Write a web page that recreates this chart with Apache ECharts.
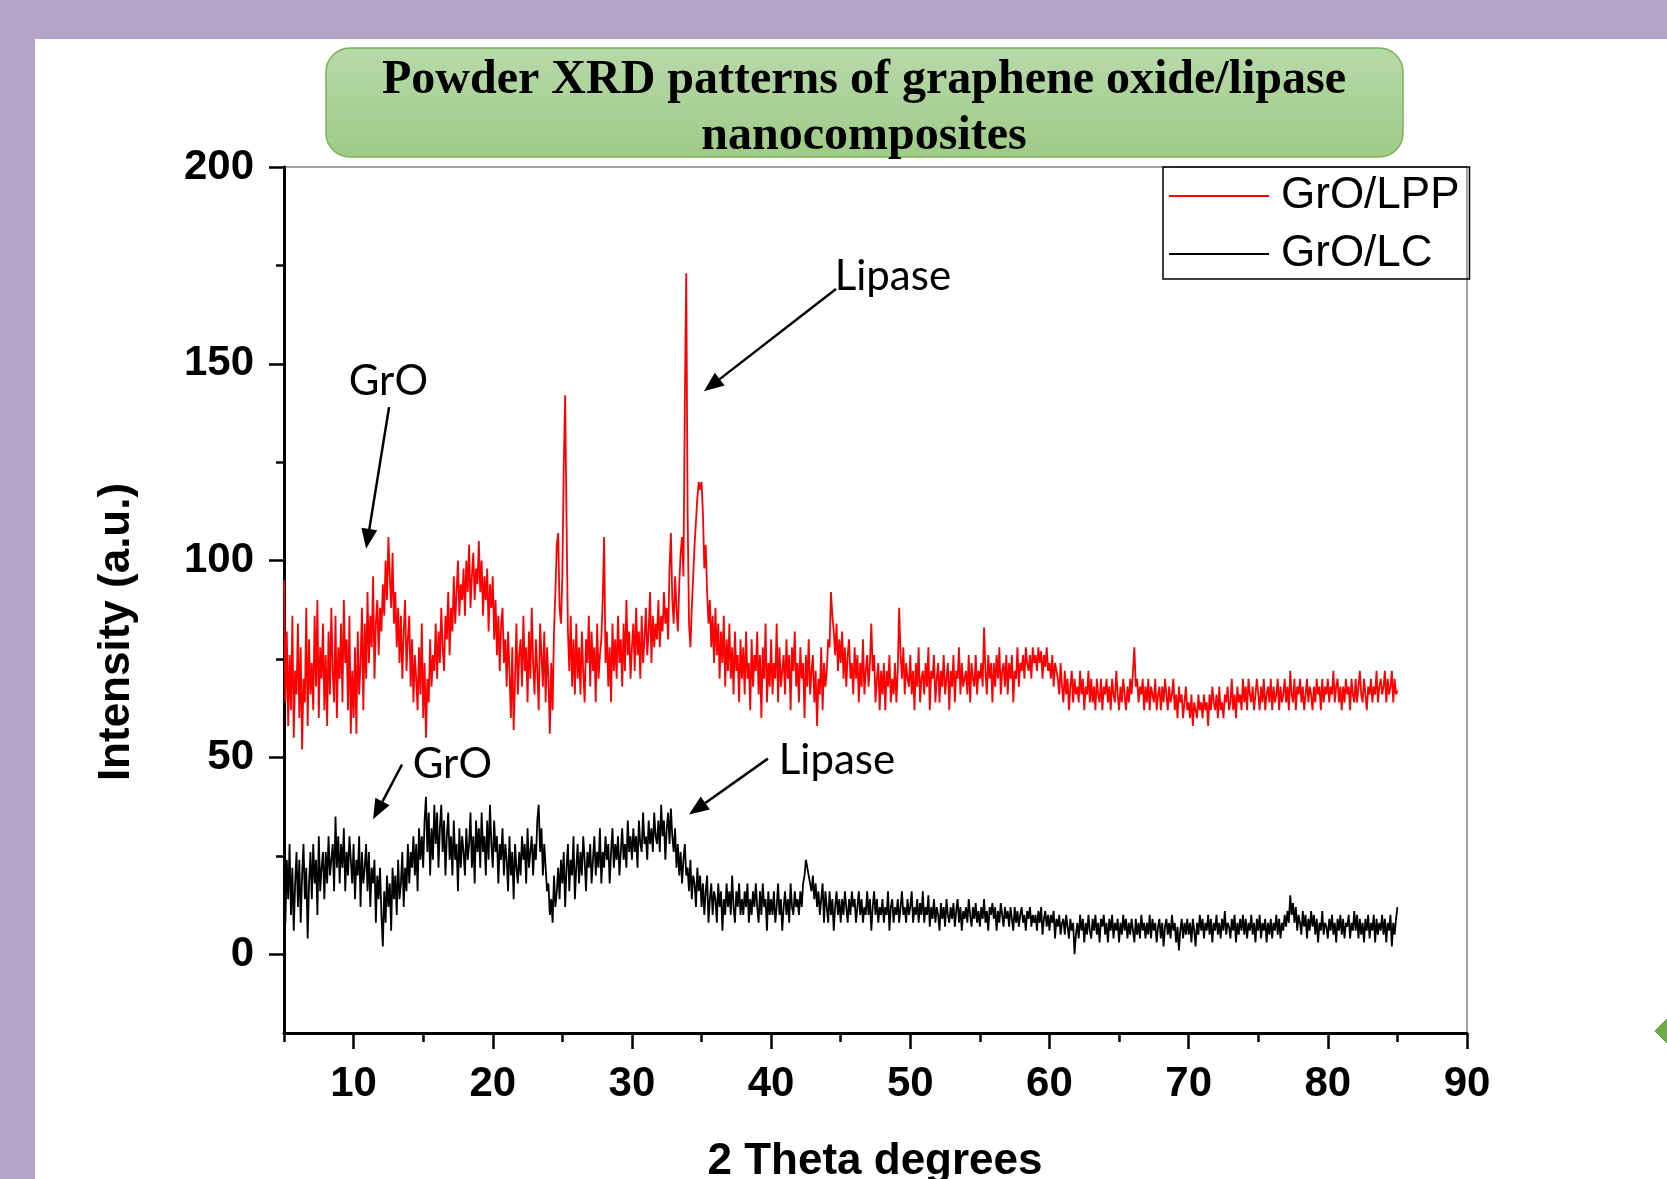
<!DOCTYPE html>
<html>
<head>
<meta charset="utf-8">
<script src="https://cdn.jsdelivr.net/npm/echarts@6/dist/echarts.min.js"></script>
<style>
  html, body { margin: 0; padding: 0; background: #b4a5c8; overflow: hidden; }
  #panel { position: absolute; left: 35px; top: 39px; right: 0; bottom: 0; background: #fff; }
  #chart { position: absolute; left: 0; top: 0; width: 1667px; height: 1179px; }
</style>
</head>
<body>
<div id="panel"></div>
<div id="chart"></div>
<script>
// 2-theta sampling of the traces (degrees)
const thetaStart = 5
const thetaStep = 0.1

// GrO/LPP intensity, one row per degree (5.0 .. 85.0)
const groLpp = [
  95, 64, 82, 58, 76, 62, 86, 55, 72, 66,
  84, 60, 78, 52, 70, 64, 88, 58, 80, 66,
  74, 62, 86, 68, 90, 60, 78, 70, 84, 62,
  76, 58, 82, 66, 88, 72, 64, 86, 60, 78,
  70, 84, 64, 90, 74, 80, 62, 86, 56, 72,
  60, 78, 56, 82, 66, 74, 88, 62, 84, 70,
  92, 74, 86, 78, 96, 70, 84, 90, 76, 88,
  82, 94, 86, 100, 90, 106, 96, 88, 102, 84,
  92, 78, 88, 74, 86, 70, 82, 90, 72, 80,
  86, 68, 80, 64, 76, 70, 62, 78, 66, 84,
  60, 74, 55, 70, 64, 80, 68, 76, 72, 84,
  70, 82, 74, 88, 78, 72, 86, 80, 92, 76,
  88, 82, 96, 84, 92, 100, 86, 94, 90, 98,
  86, 100, 92, 104, 88, 96, 102, 90, 98, 94,
  105, 92, 100, 86, 96, 90, 98, 82, 94, 88,
  96, 80, 90, 76, 86, 72, 84, 88, 74, 80,
  68, 82, 72, 60, 78, 57, 70, 84, 66, 76,
  80, 68, 86, 72, 78, 64, 82, 70, 88, 74,
  66, 80, 72, 62, 84, 76, 68, 82, 64, 78,
  70, 56, 74, 62, 82, 92, 104, 107, 88, 84,
  96, 124, 142, 110, 82, 72, 86, 68, 80, 66,
  84, 70, 78, 66, 82, 72, 64, 80, 74, 86,
  68, 82, 72, 78, 64, 84, 70, 76, 80, 90,
  106, 74, 82, 68, 78, 64, 84, 72, 80, 70,
  86, 74, 80, 68, 84, 72, 90, 76, 82, 70,
  78, 84, 72, 88, 76, 82, 70, 86, 74, 80,
  88, 76, 82, 92, 74, 86, 78, 84, 80, 90,
  78, 86, 82, 92, 84, 88, 80, 98, 107, 90,
  84, 96, 88, 82, 94, 102, 106, 96, 140, 173,
  112, 84, 78, 88, 96, 104, 110, 116, 120, 118,
  120, 112, 98, 104, 92, 84, 90, 78, 86, 74,
  88, 76, 84, 70, 82, 74, 86, 68, 80, 72,
  84, 70, 78, 66, 82, 72, 76, 64, 80, 70,
  78, 66, 82, 70, 74, 62, 80, 68, 76, 72,
  82, 66, 76, 60, 78, 70, 84, 64, 74, 68,
  80, 66, 74, 70, 84, 64, 78, 68, 72, 76,
  66, 80, 70, 76, 62, 78, 72, 82, 68, 74,
  64, 78, 70, 74, 60, 76, 68, 80, 66, 72,
  76, 64, 72, 58, 70, 66, 78, 62, 74, 68,
  72, 80, 78, 92, 86, 82, 76, 84, 72, 80,
  74, 82, 70, 78, 68, 76, 80, 70, 74, 66,
  78, 70, 76, 64, 74, 68, 80, 66, 72, 76,
  68, 74, 84, 72, 76, 64, 70, 74, 62, 72,
  66, 74, 62, 72, 68, 76, 64, 70, 66, 74,
  64, 72, 88, 76, 70, 78, 66, 74, 70, 68,
  76, 66, 72, 62, 74, 68, 78, 64, 70, 72,
  66, 74, 68, 78, 62, 72, 70, 76, 64, 70,
  74, 64, 72, 68, 76, 66, 70, 74, 62, 72,
  68, 76, 64, 72, 70, 78, 66, 74, 68, 70,
  72, 66, 76, 64, 74, 70, 68, 76, 66, 72,
  70, 74, 68, 83, 72, 66, 76, 70, 74, 64,
  74, 68, 76, 70, 78, 66, 72, 74, 68, 76,
  66, 74, 70, 76, 64, 72, 70, 78, 68, 74,
  72, 76, 70, 78, 74, 72, 76, 70, 78, 74,
  76, 72, 78, 74, 77, 70, 76, 73, 78, 72,
  74, 70, 76, 68, 74, 72, 70, 66, 74, 68,
  64, 72, 66, 70, 62, 68, 72, 64, 70, 66,
  68, 64, 72, 66, 70, 62, 68, 66, 72, 64,
  70, 64, 68, 62, 70, 66, 64, 70, 62, 68,
  66, 70, 64, 68, 62, 70, 66, 64, 72, 66,
  62, 68, 64, 70, 66, 62, 68, 64, 70, 66,
  72, 78, 68, 70, 64, 68, 66, 70, 62, 68,
  64, 70, 62, 68, 66, 64, 70, 62, 66, 68,
  62, 68, 64, 70, 66, 62, 68, 64, 66, 70,
  62, 66, 60, 68, 64, 66, 60, 64, 68, 62,
  64, 60, 66, 58, 64, 62, 60, 66, 62, 64,
  60, 66, 62, 64, 58, 66, 62, 68, 64, 62,
  66, 60, 68, 62, 64, 60, 66, 64, 68, 62,
  64, 70, 62, 66, 60, 68, 64, 66, 62, 70,
  64, 68, 62, 70, 66, 64, 68, 62, 66, 70,
  66, 62, 68, 64, 70, 62, 66, 68, 64, 70,
  62, 68, 64, 66, 70, 62, 68, 64, 66, 70,
  64, 68, 62, 72, 66, 64, 70, 62, 68, 66,
  70, 64, 68, 62, 66, 70, 64, 68, 66, 62,
  68, 64, 70, 66, 68, 62, 70, 64, 68, 66,
  70, 64, 68, 66, 72, 64, 68, 70, 64, 68,
  62, 68, 64, 70, 66, 68, 62, 70, 66, 64,
  70, 64, 68, 72, 66, 64, 70, 66, 62, 68,
  66, 70, 64, 68, 66, 72, 64, 68, 70, 66,
  68, 72, 64, 70, 66, 68, 72, 64, 70, 66,
  67
]

// GrO/LC intensity, one row per degree (5.0 .. 85.0)
const groLc = [
  20, 8, 24, 14, 28, 10, 22, 6, 18, 26,
  12, 24, 8, 20, 28, 14, 22, 4, 18, 26,
  14, 28, 18, 24, 10, 30, 16, 22, 26, 14,
  26, 18, 30, 20, 24, 28, 16, 35, 22, 30,
  18, 28, 22, 32, 16, 26, 20, 30, 24, 18,
  28, 14, 24, 20, 30, 12, 26, 18, 22, 28,
  16, 26, 12, 22, 18, 24, 8, 20, 14, 22,
  10, 2, 16, 8, 20, 12, 18, 6, 22, 14,
  20, 10, 24, 14, 18, 26, 12, 22, 16, 28,
  18, 26, 22, 30, 20, 28, 16, 32, 24, 30,
  22, 34, 40, 26, 36, 20, 32, 24, 38, 28,
  36, 22, 32, 38, 26, 34, 20, 30, 36, 24,
  30, 20, 34, 24, 28, 16, 32, 22, 30, 26,
  20, 32, 24, 28, 36, 22, 30, 18, 34, 26,
  32, 22, 36, 26, 30, 20, 34, 24, 38, 28,
  22, 34, 26, 30, 18, 28, 24, 32, 20, 28,
  24, 16, 30, 20, 26, 14, 28, 22, 18, 26,
  20, 30, 24, 28, 18, 32, 22, 26, 30, 20,
  28, 24, 34, 38, 26, 32, 20, 28, 22, 16,
  18, 10, 14, 8, 20, 12, 16, 22, 14, 24,
  18, 26, 12, 22, 28, 16, 24, 20, 30, 14,
  22, 28, 18, 26, 20, 30, 24, 16, 26, 22,
  28, 18, 24, 30, 20, 26, 22, 32, 18, 26,
  22, 30, 24, 28, 18, 26, 32, 22, 28, 24,
  30, 20, 26, 32, 24, 28, 22, 34, 26, 30,
  24, 32, 26, 30, 22, 34, 28, 26, 36, 28,
  30, 24, 34, 28, 32, 26, 36, 30, 28, 34,
  26, 38, 30, 34, 24, 32, 36, 28, 37, 30,
  26, 32, 22, 28, 20, 26, 18, 24, 28, 20,
  22, 16, 24, 14, 20, 18, 12, 22, 16, 20,
  12, 18, 10, 16, 20, 8, 14, 18, 10, 16,
  14, 8, 18, 12, 16, 6, 14, 10, 18, 12,
  16, 10, 20, 12, 8, 16, 12, 18, 10, 14,
  10, 16, 12, 18, 8, 14, 10, 16, 12, 18,
  12, 8, 16, 10, 18, 12, 14, 6, 16, 10,
  14, 10, 16, 8, 12, 18, 10, 14, 6, 12,
  16, 10, 14, 8, 18, 12, 10, 16, 12, 14,
  10, 16, 12, 18, 20, 24, 22, 20, 18, 16,
  20, 14, 18, 12, 16, 10, 14, 18, 8, 16,
  12, 8, 16, 10, 14, 6, 12, 16, 10, 14,
  8, 14, 10, 16, 12, 8, 14, 10, 16, 12,
  14, 8, 12, 16, 10, 14, 8, 12, 10, 16,
  10, 14, 6, 12, 16, 10, 14, 8, 12, 10,
  14, 8, 12, 10, 16, 6, 12, 14, 8, 12,
  10, 14, 8, 12, 16, 10, 12, 8, 14, 10,
  12, 16, 8, 12, 10, 14, 8, 13, 10, 16,
  8, 12, 10, 15, 7, 12, 9, 14, 8, 12,
  10, 6, 13, 9, 12, 7, 14, 10, 8, 12,
  9, 13, 7, 11, 14, 8, 12, 6, 11, 9,
  12, 8, 14, 10, 7, 12, 9, 13, 8, 11,
  7, 12, 9, 14, 8, 11, 6, 12, 10, 13,
  9, 12, 6, 11, 8, 13, 10, 7, 12, 9,
  11, 7, 12, 9, 6, 12, 8, 11, 7, 10,
  12, 8, 10, 6, 11, 9, 12, 7, 10, 8,
  10, 6, 11, 8, 12, 5, 9, 11, 7, 10,
  6, 10, 8, 11, 4, 9, 7, 10, 5, 8,
  9, 5, 10, 7, 4, 9, 6, 8, 0, 5,
  8, 4, 10, 6, 9, 3, 8, 5, 10, 6,
  4, 9, 6, 10, 5, 8, 3, 9, 7, 10,
  5, 8, 3, 9, 6, 10, 4, 8, 6, 9,
  3, 8, 5, 10, 6, 9, 4, 8, 5, 9,
  6, 3, 9, 5, 8, 4, 10, 6, 8, 4,
  8, 5, 10, 4, 9, 6, 8, 3, 7, 9,
  4, 8, 2, 7, 9, 5, 8, 4, 10, 6,
  8, 3, 7, 1, 6, 9, 4, 8, 5, 9,
  5, 8, 3, 9, 6, 2, 8, 5, 10, 6,
  9, 4, 8, 6, 10, 5, 9, 3, 8, 6,
  10, 5, 8, 4, 9, 6, 11, 5, 8, 7,
  4, 9, 6, 10, 3, 8, 5, 9, 6, 10,
  5, 9, 4, 8, 6, 10, 5, 8, 3, 9,
  6, 10, 4, 8, 6, 9, 3, 8, 5, 9,
  4, 8, 6, 10, 5, 9, 4, 8, 6, 10,
  7, 11, 8, 15, 10, 13, 8, 12, 6, 10,
  8, 5, 11, 7, 10, 4, 9, 6, 11, 7,
  10, 5, 9, 3, 8, 6, 11, 5, 8, 7,
  4, 9, 6, 10, 5, 8, 3, 9, 6, 10,
  5, 9, 4, 8, 7, 10, 4, 8, 6, 11,
  6, 10, 4, 9, 5, 8, 3, 9, 6, 10,
  4, 8, 6, 10, 3, 9, 5, 8, 6, 10,
  5, 9, 3, 8, 6, 10, 2, 8, 5, 9,
  12
]

const xLabels = [10, 20, 30, 40, 50, 60, 70, 80, 90]
const xMinor = [5, 15, 25, 35, 45, 55, 65, 75, 85]
const yLabels = [0, 50, 100, 150, 200]
const yMinor = [25, 75, 125, 175]

// peak labels: text centre and arrow (from -> to), in data coordinates
const notes = [
  { text: 'GrO', at: [12.5, 145.5], from: [12.55, 139], to: [10.9, 103] },
  { text: 'Lipase', at: [48.75, 172.2], from: [44.66, 169], to: [35.17, 143] },
  { text: 'GrO', at: [17.1, 48.3], from: [13.48, 48.2], to: [11.4, 34.3] },
  { text: 'Lipase', at: [44.73, 49.3], from: [39.77, 49.7], to: [34.1, 35.5] }
]

const toPairs = vals => vals.map((v, i) => [+(thetaStart + i * thetaStep).toFixed(1), v])

const bold = { fontFamily: 'Liberation Sans, Arial, sans-serif', fontWeight: 'bold', color: '#000' }
const tickStyle = { color: '#000', width: 2.5 }

const chart = echarts.init(document.getElementById('chart'))
chart.setOption({
  animation: false,
  grid: { left: 284, top: 167, right: 200, bottom: 146, show: true, borderColor: '#444', borderWidth: 1 },
  legend: {
    orient: 'vertical', left: 1163, top: 167,
    borderColor: '#000', borderWidth: 1.5, padding: [4, 10, 0, 6],
    itemWidth: 100, itemHeight: 2, itemGap: 8, icon: 'rect',
    textStyle: { fontFamily: 'Liberation Sans, Arial, sans-serif', fontSize: 44, color: '#000', lineHeight: 50, padding: [0, 0, 0, 7] },
    data: ['GrO/LPP', 'GrO/LC']
  },
  xAxis: [
    {
      type: 'value', min: 5, max: 90,
      axisLine: { onZero: false, lineStyle: { color: '#000', width: 3 } },
      axisTick: { customValues: xLabels, length: 16, lineStyle: tickStyle },
      axisLabel: { customValues: xLabels, margin: 30, fontSize: 42, ...bold },
      splitLine: { show: false }
    },
    {
      type: 'value', min: 5, max: 90, position: 'bottom',
      axisLine: { show: false, onZero: false },
      axisTick: { customValues: xMinor, length: 9, lineStyle: tickStyle },
      axisLabel: { show: false },
      splitLine: { show: false }
    }
  ],
  yAxis: [
    {
      type: 'value', min: -20, max: 200,
      axisLine: { show: true, onZero: false, lineStyle: { color: '#000', width: 3 } },
      axisTick: { show: true, customValues: yLabels, length: 15, lineStyle: tickStyle },
      axisLabel: { customValues: yLabels, margin: 30, fontSize: 42, ...bold },
      splitLine: { show: false }
    },
    {
      type: 'value', min: -20, max: 200, position: 'left',
      axisLine: { show: false, onZero: false },
      axisTick: { show: true, customValues: yMinor, length: 8, lineStyle: tickStyle },
      axisLabel: { show: false },
      splitLine: { show: false }
    }
  ],
  series: [
    {
      name: 'GrO/LPP', type: 'line', data: toPairs(groLpp),
      showSymbol: false, color: '#ff0000',
      lineStyle: { color: '#ff0000', width: 1.8 }
    },
    {
      name: 'GrO/LC', type: 'line', data: toPairs(groLc),
      showSymbol: false, color: '#000000',
      lineStyle: { color: '#000000', width: 1.8 }
    }
  ]
})

// decorations: title box, axis titles, peak labels with arrows
const px = p => chart.convertToPixel({ xAxisIndex: 0, yAxisIndex: 0 }, p)
const graphics = [
  {
    type: 'rect', z: 10,
    shape: { x: 326, y: 48, width: 1077, height: 109, r: 24 },
    style: {
      fill: new echarts.graphic.LinearGradient(0, 0, 0, 1, [
        { offset: 0, color: '#b8d9aa' }, { offset: 1, color: '#9ecb86' }
      ]),
      stroke: '#78b358', lineWidth: 1.5
    }
  },
  {
    type: 'text', z: 11, x: 864, y: 53,
    style: {
      text: 'Powder XRD patterns of graphene oxide/lipase\nnanocomposites',
      fontFamily: 'Liberation Serif, Times New Roman, serif', fontWeight: 'bold', fontSize: 48,
      lineHeight: 56, fill: '#000', align: 'center', verticalAlign: 'top'
    }
  },
  {
    type: 'text', z: 11, x: 117, y: 632, rotation: Math.PI / 2,
    style: { text: 'Intensity (a.u.)', fontSize: 44, ...bold, fill: '#000', align: 'center', verticalAlign: 'middle' }
  },
  {
    type: 'text', z: 11, x: 875, y: 1162,
    style: { text: '2 Theta degrees', fontSize: 44, ...bold, fill: '#000', align: 'center', verticalAlign: 'middle' }
  },
  {
    type: 'polygon', z: 11,
    shape: { points: [[1655, 1031], [1672, 1014], [1689, 1031], [1672, 1048]] },
    style: { fill: '#70ad47', stroke: '#5a9a38', lineWidth: 1 }
  }
]

notes.forEach(n => {
  const c = px(n.at)
  const a = px(n.from)
  const b = px(n.to)
  const dx = b[0] - a[0], dy = b[1] - a[1]
  const len = Math.hypot(dx, dy)
  const ux = dx / len, uy = dy / len
  const headL = 20, headW = 8
  const bx = b[0] - ux * headL, by = b[1] - uy * headL
  graphics.push({
    type: 'text', z: 12, x: c[0], y: c[1],
    style: { text: n.text, fontFamily: 'Lato, Open Sans, sans-serif', fontSize: 42, fill: '#000', align: 'center', verticalAlign: 'middle' }
  })
  graphics.push({
    type: 'line', z: 12,
    shape: { x1: a[0], y1: a[1], x2: bx, y2: by },
    style: { stroke: '#000', lineWidth: 2.5 }
  })
  graphics.push({
    type: 'polygon', z: 12,
    shape: { points: [b, [bx - uy * headW, by + ux * headW], [bx + uy * headW, by - ux * headW]] },
    style: { fill: '#000' }
  })
})

chart.setOption({ graphic: graphics })
</script>
</body>
</html>
